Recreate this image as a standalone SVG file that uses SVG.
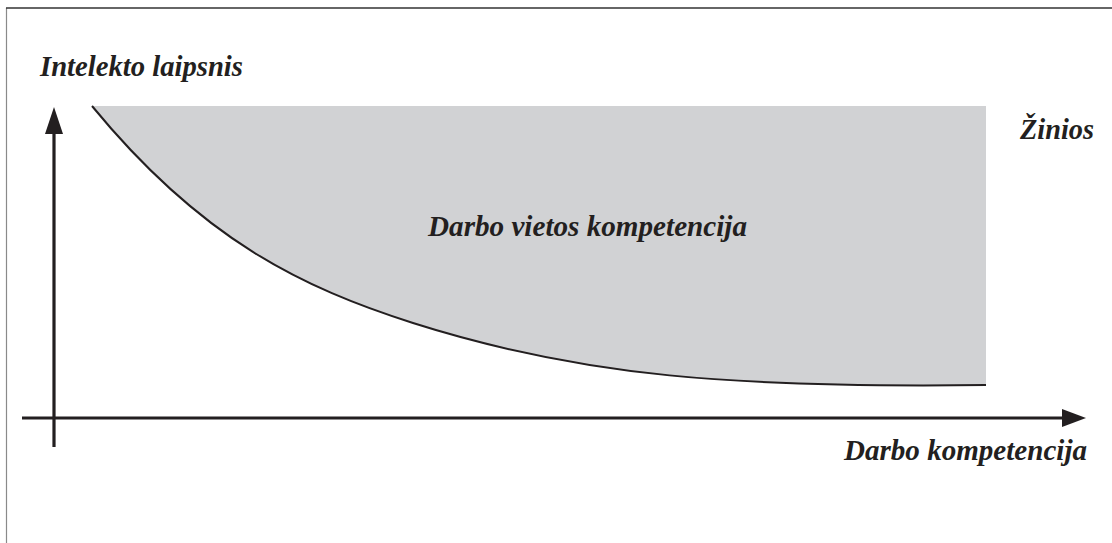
<svg xmlns="http://www.w3.org/2000/svg" width="1112" height="543" viewBox="0 0 1112 543">
<style>
.lbl{font-family:"Liberation Serif","Times New Roman",serif;font-weight:bold;font-style:italic;font-size:28.5px;fill:#231f20}
.axis{stroke:#231f20;stroke-width:3.2;fill:none}
.head{fill:#231f20}
</style>
<rect width="1112" height="543" fill="#ffffff"/>
<line x1="6.5" y1="8" x2="6.5" y2="543" stroke="#8a8a8a" stroke-width="1.2"/>
<line x1="6" y1="8" x2="1112" y2="8" stroke="#333333" stroke-width="1.4"/>
<g id="region">
<path d="M92,106 C202,240 303,288 413,323 C583,377 736,388 986,385 L986,106 Z" fill="#d1d2d4"/>
<path d="M92,106 C202,240 303,288 413,323 C583,377 736,388 986,385" fill="none" stroke="#231f20" stroke-width="2"/>
<text class="lbl" x="428" y="236" textLength="319" lengthAdjust="spacingAndGlyphs">Darbo vietos kompetencija</text>
</g>
<g id="connectors">
<line class="axis" x1="54" y1="447" x2="54" y2="128"/>
<polygon class="head" points="54,107 45,134 63,134"/>
<line class="axis" x1="22" y1="418" x2="1066" y2="418"/>
<polygon class="head" points="1086,418 1062,409 1062,427"/>
</g>
<g id="y-label"><text class="lbl" x="40" y="76" textLength="203" lengthAdjust="spacingAndGlyphs">Intelekto laipsnis</text></g>
<g id="zinios"><text class="lbl" x="1020" y="139" textLength="74" lengthAdjust="spacingAndGlyphs">Žinios</text></g>
<g id="x-label"><text class="lbl" x="844" y="460" textLength="243" lengthAdjust="spacingAndGlyphs">Darbo kompetencija</text></g>
</svg>
